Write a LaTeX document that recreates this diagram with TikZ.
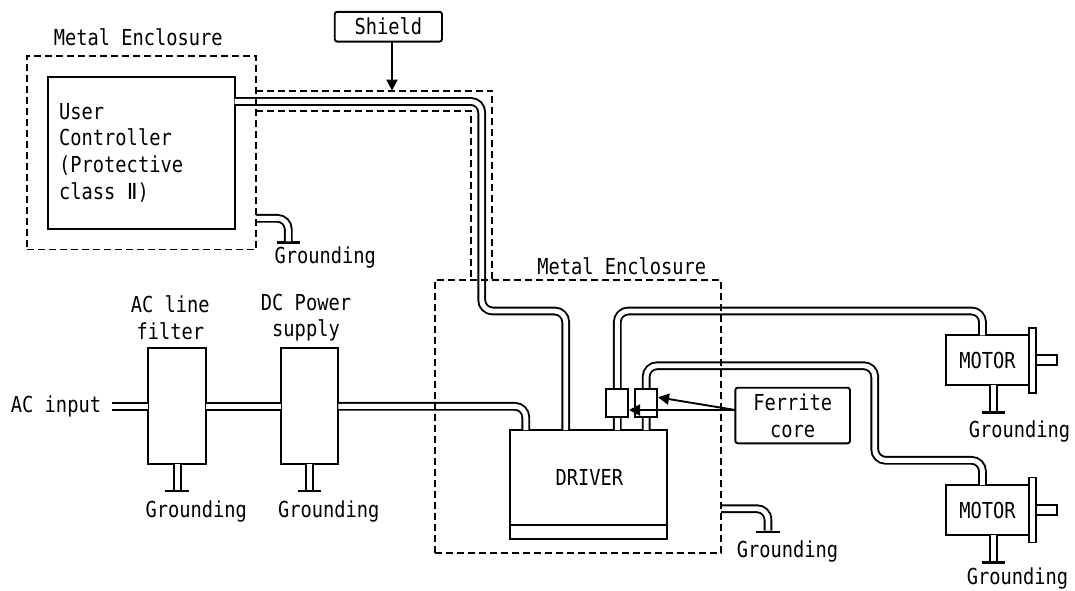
\documentclass[tikz,border=0pt]{standalone}
\usepackage{fontspec}
\usetikzlibrary{arrows.meta,calc}
\newfontfamily\gothicfont[FakeStretch=0.85]{DejaVu Sans Mono}
\newfontfamily\numeralfont{DejaVu Sans}
\tikzset{
  unit/.style={
    rectangle, draw=black, fill=white, line width=1.9pt,
    inner sep=0pt, outer sep=0pt, align=center,
    font=\gothicfont\fontsize{22}{26.7}\selectfont
  },
  tagbox/.style={unit, rounded corners=2.5pt},
  enclosure/.style={
    rectangle, draw=black, line width=1.9pt, inner sep=0pt, outer sep=0pt,
    dash pattern=on 7pt off 4pt
  },
  shieldline/.style={line width=1.9pt, draw=black, dash pattern=on 7pt off 4pt},
  cable/.style={
    draw=black, line width=1.9pt, double=white, double distance=4.9pt,
    rounded corners=11pt
  },
  arrow/.style={-{Triangle[length=11pt,width=11pt]}, line width=1.9pt, draw=black},
  gndbar/.style={
    rectangle, fill=black, minimum width=23.5pt, minimum height=2.8pt,
    inner sep=0pt, outer sep=0pt
  },
  note/.style={
    inner sep=0pt, align=center,
    font=\gothicfont\fontsize{22}{26.7}\selectfont
  }
}

\begin{document}
\begin{tikzpicture}[x=1pt,y=-1pt]
  \useasboundingbox (0,0) rectangle (1075,590);

  \node[unit, minimum width=186.3pt, minimum height=152.2pt] (user) at (141.45,152.8) {};
  \node[tagbox, minimum width=107.3pt, minimum height=29.8pt] (shieldtag) at (388.35,26.7) {Shield};
  \node[unit, minimum width=57.7pt, minimum height=115.7pt] (filter) at (177.15,406.15) {};
  \node[unit, minimum width=57.3pt, minimum height=115.7pt] (power) at (309.65,406.15) {};
  \node[unit, minimum width=157.3pt, minimum height=109.3pt] (driver) at (588.65,484.65) {};
  \node[unit, minimum width=157.3pt, minimum height=14pt] (driverbase) at (588.65,532.3) {};
  \node[tagbox, minimum width=114.7pt, minimum height=55.6pt] (ferrite) at (792.65,415.5) {Ferrite\\core};
  \node[unit, minimum width=82.4pt, minimum height=50pt] (motora) at (987.5,360.3) {MOTOR};
  \node[unit, minimum width=7.3pt, minimum height=65pt] (flangea) at (1032.35,360.2) {};
  \node[unit, minimum width=21.3pt, minimum height=10pt] (shafta) at (1046.65,360) {};
  \node[unit, minimum width=82.4pt, minimum height=50pt] (motorb) at (987.5,510.15) {MOTOR};
  \node[unit, minimum width=7.3pt, minimum height=65pt] (flangeb) at (1032.35,510) {};
  \node[unit, minimum width=21.3pt, minimum height=10pt] (shaftb) at (1046.65,510) {};

  % ground bars
  \node[gndbar] (gnduser) at (288.3,242.7) {};
  \node[gndbar] (gndfilter) at (177.15,491) {};
  \node[gndbar] (gndpower) at (309.65,491) {};
  \node[gndbar] (gnddriver) at (768,532) {};
  \node[gndbar] (gndmotora) at (993.3,412.7) {};
  \node[gndbar] (gndmotorb) at (993.3,562.7) {};

  \node[note] (txtencuser) at (138.2,37) {Metal Enclosure};
  \node[note, align=left, anchor=west] (txtuser) at (59,152.5) {User\\Controller\\(Protective\\class {\numeralfont Ⅱ})};
  \node[note] (txtgnduser) at (325.2,257) {Grounding};
  \node[note] (txtencdriver) at (621.7,266) {Metal Enclosure};
  \node[note] (txtfilter) at (170.3,317.5) {AC line\\filter};
  \node[note] (txtpower) at (306,317.5) {DC Power\\supply};
  \node[note] (txtac) at (56,406) {AC input};
  \node[note] (txtgndfilter) at (196.2,511) {Grounding};
  \node[note] (txtgndpower) at (328.8,511) {Grounding};
  \node[note] (txtdriver) at (589.3,477) {DRIVER};
  \node[note] (txtgnddriver) at (787.5,551) {Grounding};
  \node[note] (txtgndmotora) at (1019.5,431) {Grounding};
  \node[note] (txtgndmotorb) at (1017.5,578.5) {Grounding};

  \coordinate (acin) at (112.3,406.3);
  \coordinate (enclouta) at (256,218.3);
  \coordinate (encloutb) at (721,508.7);

  \draw[cable] (user.east |- 0,101.4) -- (481.7,101.4) -- (481.7,311) -- (565.7,311) -- (565.7,0 |- driver.north);
  \draw[cable] (acin) -- (filter.west |- acin);
  \draw[cable] (filter.east |- acin) -- (power.west |- acin);
  \draw[cable] (power.east |- acin) -- (525.8,406.3) -- (525.8,0 |- driver.north);
  \draw[cable] (617.3,0 |- driver.north) -- (617.3,311) -- (982.5,311) -- (982.5,0 |- motora.north);
  \draw[cable] (646.15,0 |- driver.north) -- (646.15,365.7) -- (874.7,365.7) -- (874.7,460.3) -- (982.5,460.3) -- (982.5,0 |- motorb.north);

  \draw[cable] (enclouta) -- (288.3,218.3) -- (gnduser.north);
  \draw[cable] (encloutb) -- (768,508.7) -- (gnddriver.north);
  \draw[cable] (filter.south) -- (gndfilter.north);
  \draw[cable] (power.south) -- (gndpower.north);
  \draw[cable] (993.3,0 |- motora.south) -- (gndmotora.north);
  \draw[cable] (993.3,0 |- motorb.south) -- (gndmotorb.north);

  % ferrite cores sit on top of the motor cables
  \node[unit, minimum width=22pt, minimum height=27.7pt] (corea) at (617.3,402.85) {};
  \node[unit, minimum width=21.7pt, minimum height=27.7pt] (coreb) at (646.15,402.85) {};

  \coordinate (ferout) at (735.3,410);
  \draw[arrow] (ferout) -- (658,397.3);
  \draw[arrow] (ferout) -- (629,410);
  \draw[arrow] (392,0 |- shieldtag.south) -- (392,90.6);

  \node[enclosure, minimum width=229pt, minimum height=193.7pt] (encuser) at (141.5,152.65) {};
  \node[enclosure, minimum width=286pt, minimum height=272.7pt] (encdriver) at (578,416.35) {};
  \draw[shieldline] (encuser.east |- 0,90.6) -- (492.2,90.6) -- (492.2,0 |- encdriver.north);
  \draw[shieldline] (encuser.east |- 0,110.9) -- (470.6,110.9) -- (470.6,0 |- encdriver.north);
\end{tikzpicture}
\end{document}
